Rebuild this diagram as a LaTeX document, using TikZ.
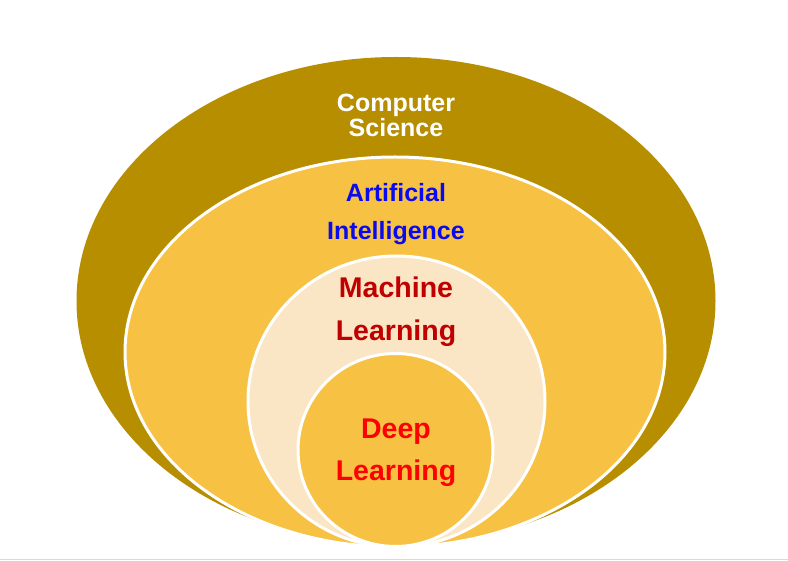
\documentclass[tikz,border=0pt]{standalone}
\usepackage{fontspec}
\setmainfont{Liberation Sans}
\usepackage{tikz}
\usetikzlibrary{positioning}
\definecolor{csbrown}{HTML}{B68E00}
\definecolor{aiyellow}{HTML}{F7C244}
\definecolor{mlcream}{HTML}{FAE5C4}
\definecolor{aiblue}{HTML}{0A0AF0}
\definecolor{mlred}{HTML}{C00000}
\definecolor{dlred}{HTML}{FF0000}
\definecolor{rule}{HTML}{D9D9D9}

\begin{document}
\begin{tikzpicture}[
  x=1pt, y=-1pt,
  region/.style={draw=white, line width=3pt},
  lbl/.style={anchor=base, align=center, inner sep=0pt,
              font=\bfseries\fontsize{25}{25}\selectfont},
  big/.style={font=\bfseries\fontsize{28.5}{43}\selectfont}
]
\useasboundingbox (0,0) rectangle (788,561);
% bottom rule
\draw[color=rule, line width=1.5pt] (0,559.5) -- (788,559.5);
% nested regions, outside in
\fill[csbrown] (396,301) ellipse [x radius=319.5pt, y radius=244pt];
\filldraw[region, fill=aiyellow] (395,352) ellipse [x radius=270pt, y radius=195pt];
\filldraw[region, fill=mlcream] (396.5,401.5) ellipse [x radius=148.5pt, y radius=145.5pt];
\filldraw[region, fill=aiyellow] (395.5,450) ellipse [x radius=97.5pt, y radius=96.5pt];
% labels (base = last line)
\node[lbl, color=white] (cs) at (396,137) {Computer\\Science};
\node[lbl, color=aiblue, font=\bfseries\fontsize{25}{38}\selectfont]
  (ai) at (396,240) {Artificial\\Intelligence};
\node[lbl, big, color=mlred] (ml) at (396,341) {Machine\\Learning};
\node[lbl, big, color=dlred] (dl) at (396,481) {Deep\\Learning};
\end{tikzpicture}
\end{document}
